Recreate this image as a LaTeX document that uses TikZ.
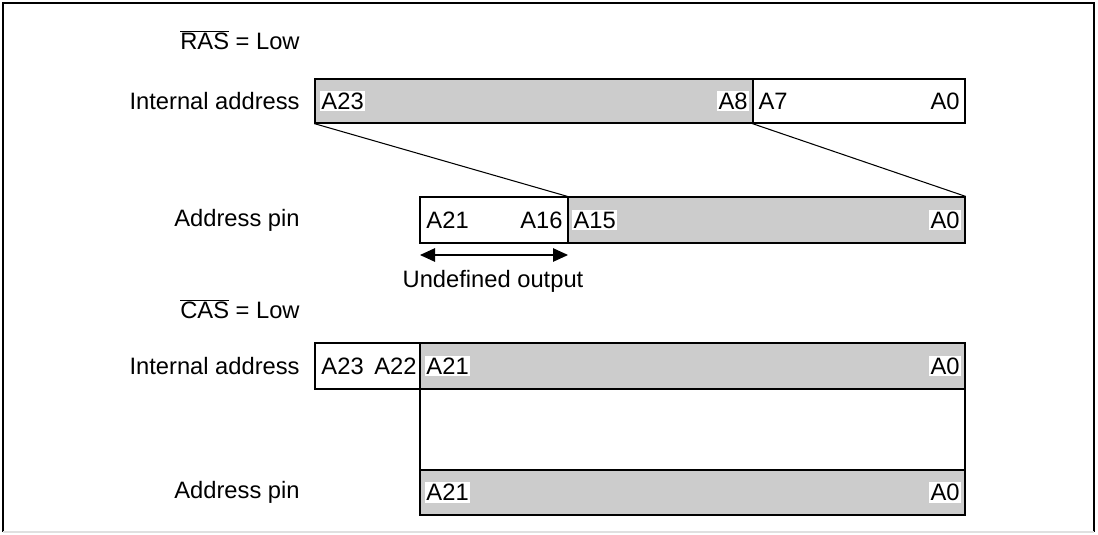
\documentclass[tikz,border=0pt]{standalone}
\usepackage{fontspec}
\setmainfont{Liberation Sans}
\usetikzlibrary{arrows.meta, positioning, fit}

\begin{document}
\begin{tikzpicture}[x=0.02cm, y=-0.02cm,
	every node/.style={font=\fontsize{13.5}{16}\selectfont},
	graycell/.style={draw, fill=black!20, line width=0.7pt, inner sep=0pt},
	whitecell/.style={draw, fill=white, line width=0.7pt, inner sep=0pt},
	bit/.style={fill=white, inner sep=1pt},
	rowlabel/.style={anchor=east, inner sep=0pt}]
			\useasboundingbox (0,0) rectangle (1098,534);
			\draw[line width=0.8pt] (3,532) -- (3,3) -- (1094,3) -- (1094,532);
			\draw[black!12, line width=0.8pt] (3,532) -- (1094,532);
			
			\node[rowlabel] (ras) at (300,40) {$\overline{\mbox{RAS}}$ = Low};
			\node[rowlabel] (ia1) at (300,101) {Internal address};
			\node[rowlabel] (ap1) at (300,220) {Address pin};
			\node[rowlabel] (cas) at (300,309) {$\overline{\mbox{CAS}}$ = Low};
			\node[rowlabel] (ia2) at (300,366) {Internal address};
			\node[rowlabel] (ap2) at (300,492) {Address pin};
			
			\node[graycell, fit={(315,79) (753,123)}] (hi1) {};
			\node[whitecell, fit={(753,79) (965,123)}] (lo1) {};
			\node[whitecell, fit={(420,197) (568,243)}] (ud1) {};
			\node[graycell, fit={(568,197) (965,243)}] (pin1) {};
			
			\node[whitecell, fit={(315,343) (420,389)}] (ud2) {};
			\node[graycell, fit={(420,343) (965,389)}] (hi2) {};
			\node[whitecell, fit={(420,389) (965,470)}] (gap2) {};
			\node[graycell, fit={(420,470) (965,515)}] (pin2) {};
			
			\node[bit, anchor=west] (b23) at ([xshift=0.1cm]hi1.west) {A23};
			\node[bit, anchor=east] (b8) at ([xshift=-0.08cm]hi1.east) {A8};
			\node[bit, anchor=west] (b7) at ([xshift=0.08cm]lo1.west) {A7};
			\node[bit, anchor=east] (b0) at ([xshift=-0.08cm]lo1.east) {A0};
			
			\node[bit, anchor=west] (p21) at ([xshift=0.1cm]ud1.west) {A21};
			\node[bit, anchor=east] (p16) at ([xshift=-0.08cm]ud1.east) {A16};
			\node[bit, anchor=west] (p15) at ([xshift=0.08cm]pin1.west) {A15};
			\node[bit, anchor=east] (p0) at ([xshift=-0.08cm]pin1.east) {A0};
			
			\node[bit, anchor=west] (c23) at ([xshift=0.1cm]ud2.west) {A23};
			\node[bit, anchor=east] (c22) at ([xshift=-0.04cm]ud2.east) {A22};
			\node[bit, anchor=west] (c21) at ([xshift=0.1cm]hi2.west) {A21};
			\node[bit, anchor=east] (c0) at ([xshift=-0.08cm]hi2.east) {A0};
			\node[bit, anchor=west] (q21) at ([xshift=0.1cm]pin2.west) {A21};
			\node[bit, anchor=east] (q0) at ([xshift=-0.08cm]pin2.east) {A0};
			
			\draw[line width=0.6pt] (hi1.south west) -- (pin1.north west);
			\draw[line width=0.6pt] (lo1.south west) -- (pin1.north east);
			
			\coordinate (ua) at (420,255);
			\coordinate (ub) at (568,255);
			\draw[line width=0.6pt, {Triangle[length=0.3cm, width=0.27cm]}-{Triangle[length=0.3cm, width=0.27cm]}] (ua) -- (ub);
			\node (undef) at (493,281) {Undefined output};
		\end{tikzpicture}
\end{document}
